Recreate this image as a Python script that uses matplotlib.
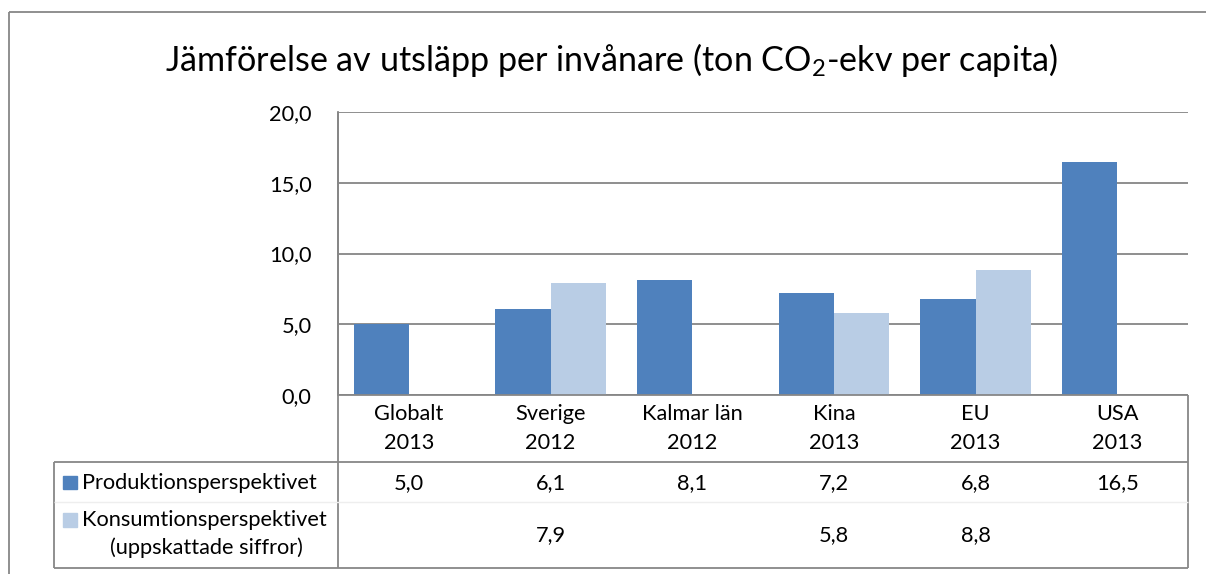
import matplotlib
matplotlib.use("Agg")
import matplotlib.pyplot as plt
from matplotlib.patches import Rectangle
from matplotlib.lines import Line2D
import matplotlib.transforms as mtransforms
import numpy as np

# ---------------- data ----------------
categories = ["Globalt", "Sverige", "Kalmar län", "Kina", "EU", "USA"]
years = ["2013", "2012", "2012", "2013", "2013", "2013"]
produktion = [5.0, 6.1, 8.1, 7.2, 6.8, 16.5]
konsumtion = [None, 7.9, None, 5.8, 8.8, None]
series_names = ["Produktionsperspektivet", "Konsumtionsperspektivet", "(uppskattade siffror)"]
yticks = [0, 5, 10, 15, 20]
title = r"Jämförelse av utsläpp per invånare (ton CO$_\mathrm{2}$-ekv per capita)"

# ---------------- style ----------------
FONT = "Lato"
plt.rcParams["font.family"] = [FONT, "DejaVu Sans"]
plt.rcParams["mathtext.fontset"] = "custom"
plt.rcParams["mathtext.rm"] = FONT
plt.rcParams["mathtext.it"] = FONT + ":italic"
plt.rcParams["mathtext.bf"] = FONT + ":bold"

DARK = "#4F81BD"
LIGHT = "#B9CDE5"
GRID = "#868686"
BORDER = "#878787"
FS = 15.7

W, H = 1206, 574
fig = plt.figure(figsize=(W / 100, H / 100), dpi=100)
fig.patch.set_facecolor("white")


def fx(px):
    return px / W


def fy(py):
    return 1 - py / H


def fline(x0, y0, x1, y1, color=BORDER, lw=1.3):
    fig.add_artist(Line2D([fx(x0), fx(x1)], [fy(y0), fy(y1)], transform=fig.transFigure,
                          color=color, lw=lw, solid_capstyle="butt"))


# plot area
PL, PR, PT, PB = 338, 1188, 112, 395
ax = fig.add_axes([fx(PL), fy(PB), fx(PR) - fx(PL), fy(PT) - fy(PB)])
x = np.arange(len(categories))
bw = 0.39
ax.bar(x - bw / 2, produktion, bw, color=DARK, zorder=3)
kon_vals = [np.nan if v is None else v for v in konsumtion]
ax.bar(x + bw / 2, kon_vals, bw, color=LIGHT, zorder=3)
ax.set_xlim(-0.5, len(categories) - 0.5)
ax.set_ylim(0, 20)
ax.set_yticks(yticks)
ax.set_yticklabels([f"{v:.1f}".replace(".", ",") for v in yticks])
ax.set_xticks([])
ax.yaxis.grid(True, color=GRID, lw=1.3)
ax.set_axisbelow(True)
ax.tick_params(axis="y", length=0, pad=19, labelsize=FS)
for s in ["top", "right", "bottom"]:
    ax.spines[s].set_visible(False)
ax.spines["left"].set_color(GRID)
ax.spines["left"].set_linewidth(1.3)

# title
fig.text(fx(611), fy(60), title, ha="center", va="center", fontsize=24.6)

# outer chart border (left and top)
fline(9, 12, 9, 574)
fline(9, 12, 1206, 12)

# table / axis lines
fline(PL, PT, PL, 568)           # left of value columns
fline(PL, PB, PR, PB)            # axis line at 0
fline(PR, PB, PR, 568)           # right border
fline(54, 462, PR, 462)          # under category labels
fline(54, 462, 54, 568)          # left of table
fline(54, 568, PR, 568)          # bottom of table
fline(54, 502, PR, 502, color="#EEEEEE", lw=1.0)  # faint row separator

trans = mtransforms.blended_transform_factory(ax.transData, fig.transFigure)
for i, (c, yr) in enumerate(zip(categories, years)):
    ax.text(i, fy(414), c, transform=trans, ha="center", va="center", fontsize=FS, clip_on=False)
    ax.text(i, fy(443), yr, transform=trans, ha="center", va="center", fontsize=FS, clip_on=False)
    ax.text(i, fy(483), f"{produktion[i]:.1f}".replace(".", ","), transform=trans,
            ha="center", va="center", fontsize=FS, clip_on=False)
    if konsumtion[i] is not None:
        ax.text(i, fy(535), f"{konsumtion[i]:.1f}".replace(".", ","), transform=trans,
                ha="center", va="center", fontsize=FS, clip_on=False)

# legend keys in table
fig.add_artist(Rectangle((fx(63), fy(489)), fx(77) - fx(63), fy(476) - fy(489),
                         transform=fig.transFigure, color=DARK))
fig.add_artist(Rectangle((fx(63), fy(527)), fx(77) - fx(63), fy(513) - fy(527),
                         transform=fig.transFigure, color=LIGHT))
fig.text(fx(82), fy(483), series_names[0], ha="left", va="center", fontsize=FS)
fig.text(fx(82), fy(520), series_names[1], ha="left", va="center", fontsize=FS)
fig.text(fx(206), fy(548), series_names[2], ha="center", va="center", fontsize=FS)

fig.savefig("out.png", dpi=100)
